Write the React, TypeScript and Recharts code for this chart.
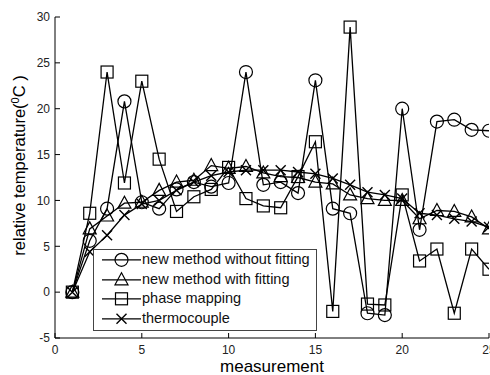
import React from "react";
import { LineChart, Line, XAxis, YAxis, Legend } from "recharts";

// measurement index and the four measured series (°C)
const measurement = [1, 2, 3, 4, 5, 6, 7, 8, 9, 10, 11, 12, 13, 14, 15, 16, 17, 18, 19, 20, 21, 22, 23, 24, 25];
const withoutFitting = [0, 5.6, 9.1, 20.8, 9.8, 9.1, 11.2, 12.0, 11.5, 11.9, 24.0, 11.7, 12.0, 10.8, 23.1, 9.1, 8.6, -2.3, -2.5, 20.0, 6.8, 18.6, 18.8, 17.7, 17.6];
const withFitting = [0, 6.9, 8.3, 9.7, 9.8, 11.1, 12.0, 12.2, 13.8, 13.5, 13.7, 13.0, 12.6, 12.5, 12.0, 11.8, 10.6, 10.2, 10.0, 10.0, 8.0, 8.9, 8.8, 8.2, 6.9];
const phaseMapping = [0, 8.6, 24.0, 11.9, 23.0, 14.5, 8.8, 10.4, 11.2, 13.6, 10.2, 9.4, 9.2, 12.6, 16.4, -2.1, 28.9, -1.3, -1.4, 10.6, 3.4, 4.7, -2.3, 4.7, 2.5];
const thermocouple = [0, 4.4, 6.2, 8.4, 9.6, 10.0, 11.1, 12.0, 12.7, 13.1, 13.3, 13.3, 13.3, 13.1, 12.9, 12.4, 11.7, 10.9, 10.6, 10.2, 8.6, 8.4, 8.0, 7.7, 7.1];

const seriesNames = ["new method without fitting", "new method with fitting", "phase mapping", "thermocouple"];
const seriesKeys = ["withoutFitting", "withFitting", "phaseMapping", "thermocouple"];
const seriesShapes = ["circle", "triangle", "square", "cross"];

const xTicks = [0, 5, 10, 15, 20, 25];
const yTicks = [-5, 0, 5, 10, 15, 20, 25, 30];

const data = measurement.map((m, i) => ({
  m,
  withoutFitting: withoutFitting[i],
  withFitting: withFitting[i],
  phaseMapping: phaseMapping[i],
  thermocouple: thermocouple[i],
}));

const FONT = '"Liberation Sans", Arial, Helvetica, sans-serif';
const TICK = 5;

function Marker({ shape, cx, cy }: { shape: string; cx?: number; cy?: number }) {
  if (cx == null || cy == null) return null;
  const common = { fill: "none", stroke: "#000", strokeWidth: 1.2 };
  if (shape === "circle") return <circle cx={cx} cy={cy} r={6.5} {...common} />;
  if (shape === "triangle")
    return <polygon points={`${cx},${cy - 7} ${cx - 6.5},${cy + 5} ${cx + 6.5},${cy + 5}`} {...common} />;
  if (shape === "square") return <rect x={cx - 6} y={cy - 6} width={12} height={12} {...common} />;
  return (
    <path
      d={`M${cx - 5},${cy - 5}L${cx + 5},${cy + 5}M${cx + 5},${cy - 5}L${cx - 5},${cy + 5}`}
      {...common}
      strokeWidth={1.4}
    />
  );
}

const BottomTick = ({ x, y, payload }: any) => (
  <g>
    <line x1={x} y1={y} x2={x} y2={y - TICK} stroke="#000" />
    <text x={x} y={y + 15.5} textAnchor="middle" fontSize={12} fill="#222" fontFamily={FONT}>
      {payload.value}
    </text>
  </g>
);

const LeftTick = ({ x, y, payload }: any) => (
  <g>
    <line x1={x} y1={y} x2={x + TICK} y2={y} stroke="#000" />
    <text x={x - 5} y={y + 4.3} textAnchor="end" fontSize={12} fill="#222" fontFamily={FONT}>
      {payload.value}
    </text>
  </g>
);

const TopTick = ({ x, y }: any) => <line x1={x} y1={y} x2={x} y2={y + TICK} stroke="#000" />;
const RightTick = ({ x, y }: any) => <line x1={x} y1={y} x2={x - TICK} y2={y} stroke="#000" />;

const XLabel = ({ viewBox }: any) => (
  <text
    x={viewBox.x + viewBox.width / 2}
    y={viewBox.y + 34}
    textAnchor="middle"
    fontSize={17}
    fill="#000"
    fontFamily={FONT}
  >
    measurement
  </text>
);

const YLabel = ({ viewBox }: any) => {
  const cx = viewBox.x + 25;
  const cy = viewBox.y + viewBox.height / 2 - 12;
  return (
    <text
      x={cx}
      y={cy}
      transform={`rotate(-90, ${cx}, ${cy})`}
      textAnchor="middle"
      fontSize={16.5}
      fill="#000"
      fontFamily={FONT}
    >
      relative temperature(
      <tspan dy={-6} fontSize={11}>
        0
      </tspan>
      <tspan dy={6}>C )</tspan>
    </text>
  );
};

const LegendBox = () => (
  <div
    style={{
      width: 224,
      height: 82,
      boxSizing: "border-box",
      border: "1px solid #444",
      background: "#fff",
      fontFamily: FONT,
      fontSize: 14.5,
      color: "#111",
    }}
  >
    {seriesNames.map((name, i) => (
      <div key={name} style={{ display: "flex", alignItems: "center", height: 19.6 }}>
        <svg width={48} height={19.6} style={{ display: "block" }}>
          <line x1={8} y1={9.8} x2={47} y2={9.8} stroke="#000" strokeWidth={1.3} />
          <Marker shape={seriesShapes[i]} cx={27.5} cy={9.8} />
        </svg>
        <span style={{ whiteSpace: "nowrap", lineHeight: "19.6px" }}>{name}</span>
      </div>
    ))}
  </div>
);

export default function App() {
  return (
    <div style={{ width: 490, height: 375, background: "#fff" }}>
      <style>{"body{margin:0;overflow:hidden;background:#fff}"}</style>
      <LineChart width={490} height={375} data={data} margin={{ top: 17, right: 1, bottom: 0, left: 0 }}>
        <XAxis
          dataKey="m"
          type="number"
          domain={[0, 25]}
          ticks={xTicks}
          interval={0}
          allowDataOverflow
          height={37}
          tickSize={0}
          tickMargin={0}
          tickLine={false}
          axisLine={{ stroke: "#000" }}
          tick={<BottomTick />}
          label={{ content: (p: any) => <XLabel viewBox={p.viewBox} /> }}
        />
        <XAxis
          xAxisId="top"
          orientation="top"
          dataKey="m"
          type="number"
          domain={[0, 25]}
          ticks={xTicks}
          interval={0}
          allowDataOverflow
          height={0}
          tickSize={0}
          tickMargin={0}
          tickLine={false}
          axisLine={{ stroke: "#000" }}
          tick={<TopTick />}
        />
        <YAxis
          type="number"
          domain={[-5, 30]}
          ticks={yTicks}
          interval={0}
          allowDataOverflow
          width={55}
          tickSize={0}
          tickMargin={0}
          tickLine={false}
          axisLine={{ stroke: "#000" }}
          tick={<LeftTick />}
          label={{ content: (p: any) => <YLabel viewBox={p.viewBox} /> }}
        />
        <YAxis
          yAxisId="right"
          orientation="right"
          type="number"
          domain={[-5, 30]}
          ticks={yTicks}
          interval={0}
          allowDataOverflow
          width={0}
          tickSize={0}
          tickMargin={0}
          tickLine={false}
          axisLine={{ stroke: "#000" }}
          tick={<RightTick />}
        />
        {seriesKeys.map((key, i) => (
          <Line
            key={key}
            dataKey={key}
            name={seriesNames[i]}
            type="linear"
            stroke="#000"
            strokeWidth={1.3}
            isAnimationActive={false}
            dot={(p: any) => <Marker key={`${key}-${p.index}`} shape={seriesShapes[i]} cx={p.cx} cy={p.cy} />}
            activeDot={false}
          />
        ))}
        <Legend
          layout="vertical"
          align="center"
          verticalAlign="middle"
          content={<LegendBox />}
          wrapperStyle={{ position: "absolute", left: 93, top: 249, width: 224, height: 82 }}
        />
      </LineChart>
    </div>
  );
}
